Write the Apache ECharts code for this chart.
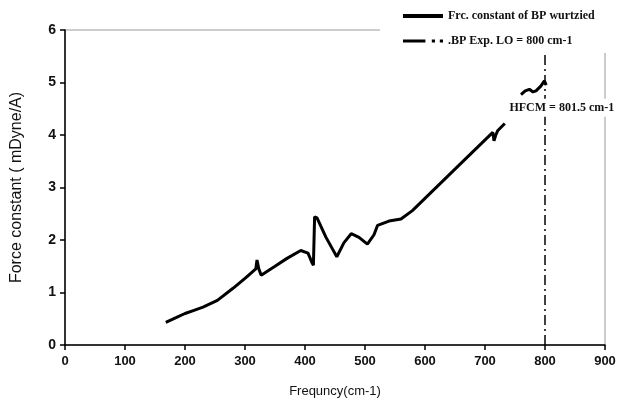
<!DOCTYPE html>
<html><head><meta charset="utf-8">
<script src="https://cdn.jsdelivr.net/npm/echarts@6/dist/echarts.min.js"></script>
<style>html,body{margin:0;padding:0;background:#fff}#c{width:627px;height:410px}</style>
</head><body><div id="c"></div>
<script>
const freq = [168,185,200,215,230,254,280,300,310,318,320,323,327,350,370,393,405,412,414,416,420,435,453,465,477,490,504,515,521,540,560,579,650,713,715,718,721,733,null,760,767,774,780,785,793,799,802];
const force = [0.43,0.52,0.6,0.66,0.72,0.85,1.08,1.27,1.37,1.45,1.62,1.45,1.33,1.5,1.65,1.80,1.75,1.56,1.52,2.44,2.42,2.05,1.68,1.95,2.12,2.05,1.92,2.1,2.28,2.36,2.40,2.56,3.35,4.05,3.89,4.0,4.08,4.22,null,4.77,4.84,4.87,4.82,4.84,4.93,5.03,4.95];
const expLO = 800;
const hfcm = 801.5;
const xTicks = [0,100,200,300,400,500,600,700,800,900];
const yTicks = [0,1,2,3,4,5,6];
const seriesNames = ['Frc. constant of BP wurtzied', '.BP Exp. LO = 800 cm-1'];

const mainData = freq.map((f,i)=> f===null ? [null,null] : [f, force[i]]);
const chart = echarts.init(document.getElementById('c'));
chart.setOption({
  animation:false,
  grid:{left:65,right:22,top:30,bottom:65,show:true,borderColor:'#999',borderWidth:1,backgroundColor:'transparent'},
  xAxis:{type:'value',min:xTicks[0],max:xTicks[xTicks.length-1],interval:100,
    name:'Frequncy(cm-1)',nameLocation:'middle',nameGap:40,
    nameTextStyle:{fontFamily:'Liberation Sans',fontSize:13,color:'#111'},
    axisLine:{lineStyle:{color:'#000',width:1.5}},
    axisTick:{show:true,length:5,lineStyle:{color:'#000',width:1.5}},
    axisLabel:{fontFamily:'Liberation Sans',fontSize:13,color:'#111',margin:10,fontWeight:'bold'},
    splitLine:{show:false}},
  yAxis:{type:'value',min:yTicks[0],max:yTicks[yTicks.length-1],interval:1,
    name:'Force constant ( mDyne/A)',nameLocation:'middle',nameGap:40,
    nameTextStyle:{fontFamily:'Liberation Sans',fontSize:16,color:'#111'},
    axisLine:{show:true,lineStyle:{color:'#000',width:1.5}},
    axisTick:{show:true,length:5,lineStyle:{color:'#000',width:1.5}},
    axisLabel:{fontFamily:'Liberation Sans',fontSize:14,color:'#111',margin:9,fontWeight:'bold'},
    splitLine:{show:false}},
  legend:{orient:'vertical',left:403,top:10,itemGap:13,itemWidth:40,itemHeight:4,padding:0,
    textStyle:{fontFamily:'Liberation Serif',fontWeight:'bold',fontSize:12,color:'#111'},
    data:[
      {name:seriesNames[0],icon:'rect',itemStyle:{color:'#000'}},
      {name:seriesNames[1],icon:'path://M0,0H14V2H0Z M18,0H20V2H18Z M23,0H25V2H23Z',itemStyle:{color:'#000'}}
    ]},
  graphic:[{type:'rect',left:380,top:0,shape:{width:247,height:53},style:{fill:'#fff'},z:3}],
  series:[
    {name:seriesNames[0],type:'line',data:mainData,symbol:'none',connectNulls:false,
      lineStyle:{color:'#000',width:3},itemStyle:{color:'#000'},z:2},
    {name:seriesNames[1],type:'line',data:[[expLO,0],[expLO,5.55]],symbol:'none',
      lineStyle:{color:'#000',width:1.5,type:[10,4,2,4]},itemStyle:{color:'#000'},z:1,
      markPoint:{symbol:'rect',symbolSize:1,itemStyle:{color:'transparent'},
        data:[{coord:[828,4.52],value:hfcm}],
        label:{show:true,position:'inside',formatter:'HFCM = '+hfcm+' cm-1',fontFamily:'Liberation Serif',fontWeight:'bold',fontSize:12,color:'#111',backgroundColor:'#fff',padding:[3,2,3,2]}}}
  ]
});
</script></body></html>
